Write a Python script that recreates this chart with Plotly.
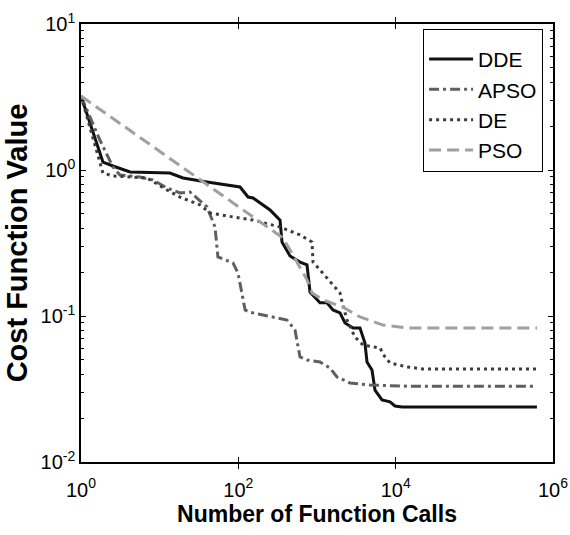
import plotly.graph_objects as go

# Convergence histories: number of function calls vs. best cost
dde_calls = [1, 1.9, 2.55, 4.2, 13.5, 19.8, 40, 105, 133, 154, 253, 339, 359, 454, 608, 746,
             815, 1092, 1340, 1597, 1960, 2270, 2870, 3520, 4070, 4320, 5000, 5460, 6700,
             8470, 9800, 12000, 625000]
dde_cost = [3.21, 1.134, 1.065, 0.969, 0.954, 0.882, 0.828, 0.765, 0.653, 0.643, 0.532, 0.454,
            0.321, 0.258, 0.234, 0.224, 0.146, 0.123, 0.123, 0.110, 0.105, 0.0896, 0.0828,
            0.0828, 0.0653, 0.0484, 0.0427, 0.0311, 0.0266, 0.0258, 0.0242, 0.0238, 0.0238]

apso_calls = [1, 1.74, 2.55, 3.13, 5.62, 8.2, 12.4, 18.1, 24.3, 40, 50.5, 55, 85.5, 99, 122,
              141, 415, 525, 608, 746, 1092, 1463, 1795, 2625, 4710, 15200, 590000]
apso_cost = [3.21, 1.60, 1.048, 0.924, 0.895, 0.854, 0.753, 0.696, 0.707, 0.558, 0.407, 0.254,
             0.231, 0.197, 0.110, 0.106, 0.0939, 0.0802, 0.0524, 0.050, 0.0484, 0.044, 0.0382,
             0.0348, 0.0337, 0.0330, 0.0330]

de_calls = [1, 1.74, 1.9, 2.55, 5.62, 6.9, 12.4, 18.1, 32.6, 43.6, 85.5, 154, 339, 608, 864,
            890, 1340, 1960, 2080, 2405, 3040, 3845, 6320, 7310, 8470, 13900, 22200, 625000]
de_cost = [3.21, 1.117, 0.954, 0.910, 0.895, 0.882, 0.730, 0.653, 0.576, 0.508, 0.477, 0.454,
           0.407, 0.359, 0.321, 0.234, 0.182, 0.144, 0.125, 0.0939, 0.0718, 0.0633, 0.0604,
           0.0524, 0.0477, 0.0448, 0.0434, 0.0434]

pso_calls = [1, 370, 495, 746, 864, 1192, 2140, 3520, 6900, 13900, 625000]
pso_cost = [3.21, 0.342, 0.262, 0.177, 0.144, 0.129, 0.115, 0.0985, 0.0867, 0.0828, 0.0828]

x_tickvals = [1, 1e2, 1e4, 1e6]
x_ticktext = ["10<sup>0</sup>", "10<sup>2</sup>", "10<sup>4</sup>", "10<sup>6</sup>"]
y_tickvals = [1e-2, 1e-1, 1, 10]
y_ticktext = ["10<sup>-2</sup>", "10<sup>-1</sup>", "10<sup>0</sup>", "10<sup>1</sup>"]
y_minor = [m * 10.0 ** e for e in range(-2, 1) for m in range(2, 10)]

series = [
    ("DDE", dde_calls, dde_cost, "#111111", "solid"),
    ("APSO", apso_calls, apso_cost, "#5f5f5f", "10px,4px,3px,4px"),
    ("DE", de_calls, de_cost, "#3c3c3c", "3px,4px"),
    ("PSO", pso_calls, pso_cost, "#a0a0a0", "12px,6px"),
]

fig = go.Figure()
for name, xs, ys, color, dash in series:
    fig.add_trace(go.Scatter(x=xs, y=ys, name=name, mode="lines",
                             line=dict(color=color, width=3, dash=dash)))

# empty trace so the right-hand tick axis is drawn
fig.add_trace(go.Scatter(x=[], y=[], yaxis="y2", showlegend=False, hoverinfo="skip"))

font_main = "Liberation Sans, Arial, sans-serif"

common_y = dict(
    type="log", range=[-2, 1],
    tickmode="array", tickvals=y_tickvals,
    ticks="inside", ticklen=5, tickcolor="black", tickwidth=1,
    showgrid=False, zeroline=False,
    minor=dict(tickmode="array", tickvals=y_minor, ticks="inside", ticklen=3,
               tickcolor="black", tickwidth=1, showgrid=False),
    automargin=False,
)

fig.update_layout(
    width=570, height=535,
    margin=dict(l=81, r=17, t=24, b=73),
    plot_bgcolor="white", paper_bgcolor="white",
    font=dict(family=font_main, size=20, color="black"),
    showlegend=True,
    legend=dict(
        x=0.979, y=0.989, xanchor="right", yanchor="top",
        bgcolor="white", bordercolor="black", borderwidth=1,
        font=dict(size=21, family=font_main),
        title=dict(text=" ", font=dict(size=7)),
        itemwidth=44,
    ),
    xaxis=dict(
        type="log", range=[0, 6],
        tickmode="array", tickvals=x_tickvals, ticktext=x_ticktext,
        ticks="inside", ticklen=5, tickcolor="black", tickwidth=1,
        showline=True, linecolor="black", linewidth=1.5, mirror="allticks",
        showgrid=False, zeroline=False, automargin=False,
        tickfont=dict(size=20), ticklabelstandoff=9,
        title=dict(text="<b>Number of Function Calls</b>",
                   font=dict(size=23, family=font_main), standoff=0),
    ),
    yaxis=dict(
        **common_y,
        ticktext=y_ticktext,
        showline=True, linecolor="black", linewidth=1.5, mirror=True,
        tickfont=dict(size=20),
        title=dict(text="<b>Cost Function Value</b>",
                   font=dict(size=29, family=font_main), standoff=4),
    ),
    yaxis2=dict(
        **common_y,
        overlaying="y", side="right", anchor="x",
        showticklabels=False, showline=False,
    ),
)

fig.write_html("out.html")
